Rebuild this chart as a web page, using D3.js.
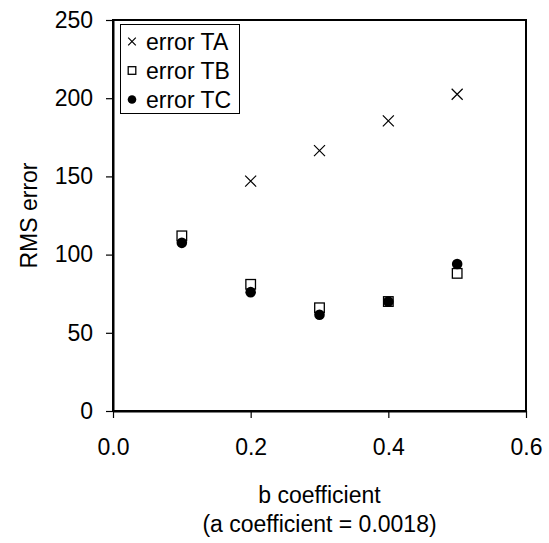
<!DOCTYPE html>
<html>
<head>
<meta charset="utf-8">
<script src="https://cdn.jsdelivr.net/npm/d3@7"></script>
<style>
    body { margin: 0; background: #fff; }
    text { font-family: "Liberation Sans", Arial, sans-serif; fill: #000; }
</style>
</head>
<body>
<div id="chart"></div>
<script>
// b coefficient values (x positions)
const bValues = [0.1, 0.2, 0.3, 0.4, 0.5];
// RMS error per series (null = no point drawn)
const errorTA = [null, 147, 166.5, 185.5, 202.5];
const errorTB = [112, 81, 66, 70, 88];
const errorTC = [107.5, 76, 61.5, 70, 94];
// Legend labels
const seriesNames = ['error TA', 'error TB', 'error TC'];
// Tick values
const xTicks = [0, 0.2, 0.4, 0.6];
const yTicks = [0, 50, 100, 150, 200, 250];

const width = 549;
const height = 543;
const fontSize = 23;

// Plot area edges
const plotLeft = 113, plotRight = 526, plotTop = 20, plotBottom = 411;

const xScale = d3.scaleLinear().domain([0, 0.6]).range([plotLeft, plotRight]);
const yScale = d3.scaleLinear().domain([0, 250]).range([plotBottom, plotTop]);

const svg = d3.select('#chart').append('svg')
    .attr('width', width)
    .attr('height', height);

// Frame around plot area (top and right)
svg.append('rect')
    .attr('x', plotLeft)
    .attr('y', plotTop)
    .attr('width', plotRight - plotLeft)
    .attr('height', plotBottom - plotTop)
    .attr('fill', 'none')
    .attr('stroke', '#000')
    .attr('stroke-width', 2);

// Bottom axis
const xAxis = svg.append('g')
    .attr('transform', `translate(0, ${plotBottom})`)
    .call(d3.axisBottom(xScale).tickValues(xTicks).tickSize(7).tickSizeOuter(0).tickPadding(21)
        .tickFormat(d3.format('.1f')));

// Left axis
const yAxis = svg.append('g')
    .attr('transform', `translate(${plotLeft}, 0)`)
    .call(d3.axisLeft(yScale).tickValues(yTicks).tickSize(7).tickSizeOuter(0).tickPadding(13));

[xAxis, yAxis].forEach(ax => {
    ax.select('.domain').attr('stroke-width', 2);
    ax.selectAll('.tick line').attr('stroke-width', 1.2);
    ax.selectAll('.tick text')
        .style('font-size', fontSize + 'px')
        .style('font-family', '"Liberation Sans", Arial, sans-serif');
});

// Marker drawing helpers
function drawCross(g, x, y, s) {
    g.append('path')
        .attr('d', `M${x - s},${y - s}L${x + s},${y + s}M${x - s},${y + s}L${x + s},${y - s}`)
        .attr('stroke', '#000')
        .attr('stroke-width', 1.2)
        .attr('fill', 'none');
}
function drawSquare(g, x, y, s) {
    g.append('rect')
        .attr('x', x - s)
        .attr('y', y - s)
        .attr('width', 2 * s)
        .attr('height', 2 * s)
        .attr('fill', '#fff')
        .attr('stroke', '#000')
        .attr('stroke-width', 1.3);
}
function drawDot(g, x, y, r) {
    g.append('circle')
        .attr('cx', x)
        .attr('cy', y)
        .attr('r', r)
        .attr('fill', '#000');
}

const series = [
    { values: errorTA, draw: drawCross, size: 5.5, legendSize: 3.8 },
    { values: errorTB, draw: drawSquare, size: 4.8, legendSize: 3.8 },
    { values: errorTC, draw: drawDot, size: 5.3, legendSize: 4.3 }
];

// Plot the points
const points = svg.append('g');
series.forEach(s => {
    s.values.forEach((v, i) => {
        if (v === null) return;
        s.draw(points, xScale(bValues[i]), yScale(v), s.size);
    });
});

// Legend
const legend = svg.append('g');
legend.append('rect')
    .attr('x', 120.5)
    .attr('y', 24.5)
    .attr('width', 119)
    .attr('height', 89)
    .attr('fill', '#fff')
    .attr('stroke', '#000')
    .attr('stroke-width', 1);

series.forEach((s, i) => {
    const cy = 41.5 + i * 29;
    s.draw(legend, 132, cy, s.legendSize);
    legend.append('text')
        .attr('x', 146)
        .attr('y', cy)
        .attr('dy', '0.36em')
        .style('font-size', fontSize + 'px')
        .text(seriesNames[i]);
});

// X axis title
svg.append('text')
    .attr('x', (plotLeft + plotRight) / 2)
    .attr('y', 503)
    .attr('text-anchor', 'middle')
    .style('font-size', fontSize + 'px')
    .text('b coefficient');
svg.append('text')
    .attr('x', (plotLeft + plotRight) / 2)
    .attr('y', 532)
    .attr('text-anchor', 'middle')
    .style('font-size', fontSize + 'px')
    .text('(a coefficient = 0.0018)');

// Y axis title
svg.append('text')
    .attr('transform', `translate(37, ${(plotTop + plotBottom) / 2}) rotate(-90)`)
    .attr('text-anchor', 'middle')
    .style('font-size', fontSize + 'px')
    .text('RMS error');
</script>
</body>
</html>
